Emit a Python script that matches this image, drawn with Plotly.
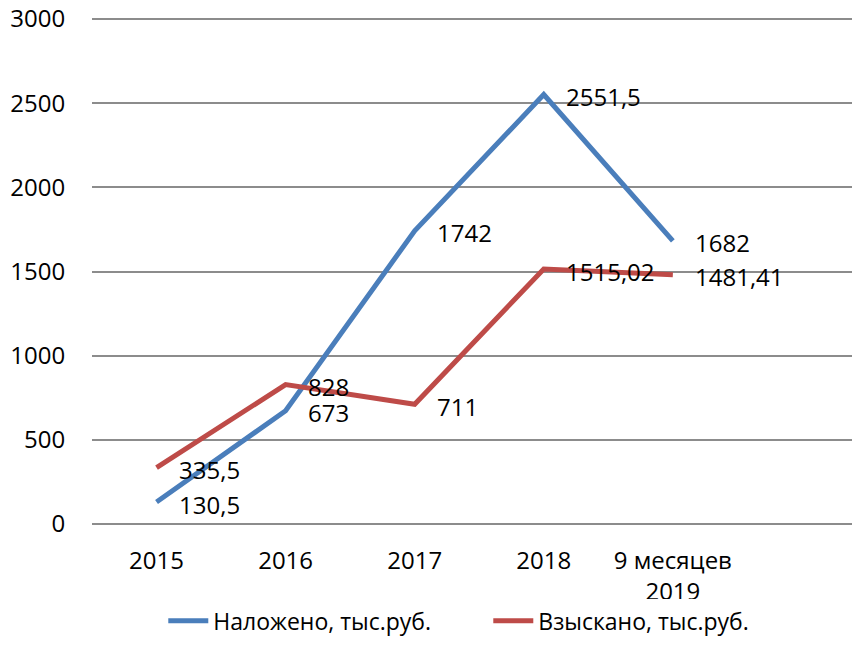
import plotly.graph_objects as go

categories = ["2015", "2016", "2017", "2018", "9 месяцев<br>2019"]
imposed = [130.5, 673, 1742, 2551.5, 1682]
collected = [335.5, 828, 711, 1515.02, 1481.41]
imposed_labels = ["130,5", "673", "1742", "2551,5", "1682"]
collected_labels = ["335,5", "828", "711", "1515,02", "1481,41"]
y_ticks = [0, 500, 1000, 1500, 2000, 2500, 3000]

FONT = "Open Sans"
BLUE = "#4A7EBB"
RED = "#BE4B48"

x_idx = list(range(len(categories)))

fig = go.Figure()
fig.add_trace(go.Scatter(x=x_idx, y=imposed, mode="lines", name="Наложено, тыс.руб.",
                         line=dict(color=BLUE, width=5)))
fig.add_trace(go.Scatter(x=x_idx, y=collected, mode="lines", name="Взыскано, тыс.руб.",
                         line=dict(color=RED, width=5)))

for xs, ys, labs in [(x_idx, imposed, imposed_labels), (x_idx, collected, collected_labels)]:
    for xv, yv, lab in zip(xs, ys, labs):
        fig.add_annotation(x=xv, y=yv, text=lab, showarrow=False, xanchor="left",
                           yanchor="middle", xshift=20, yshift=-2,
                           font=dict(family=FONT, size=24, color="black"))

fig.update_layout(
    width=860, height=661,
    margin=dict(l=84, r=8, t=6, b=145, autoexpand=False),
    plot_bgcolor="white", paper_bgcolor="white",
    font=dict(family=FONT, size=24, color="black"),
    showlegend=True,
    legend=dict(orientation="h", x=0.516, xanchor="center", y=-0.19, yanchor="middle",
                font=dict(family=FONT, size=23, color="black"), itemwidth=40,
                entrywidth=270, traceorder="normal"),
)
fig.update_xaxes(range=[-0.5, 5.45], tickmode="array", tickvals=x_idx, ticktext=categories,
                 showgrid=False, zeroline=False, showline=False, automargin=False,
                 ticks="outside", ticklen=15, tickcolor="rgba(0,0,0,0)",
                 tickfont=dict(family=FONT, size=24))
fig.update_yaxes(range=[0, 3030], tickmode="array", tickvals=y_ticks,
                 showgrid=True, gridcolor="#8C8C8C", gridwidth=1.5,
                 zeroline=True, zerolinecolor="#8C8C8C", zerolinewidth=1.5,
                 showline=False, automargin=False, ticklabeloverflow="allow",
                 ticks="outside", ticklen=21, tickcolor="rgba(0,0,0,0)",
                 tickfont=dict(family=FONT, size=24))

fig.write_html("out.html")
